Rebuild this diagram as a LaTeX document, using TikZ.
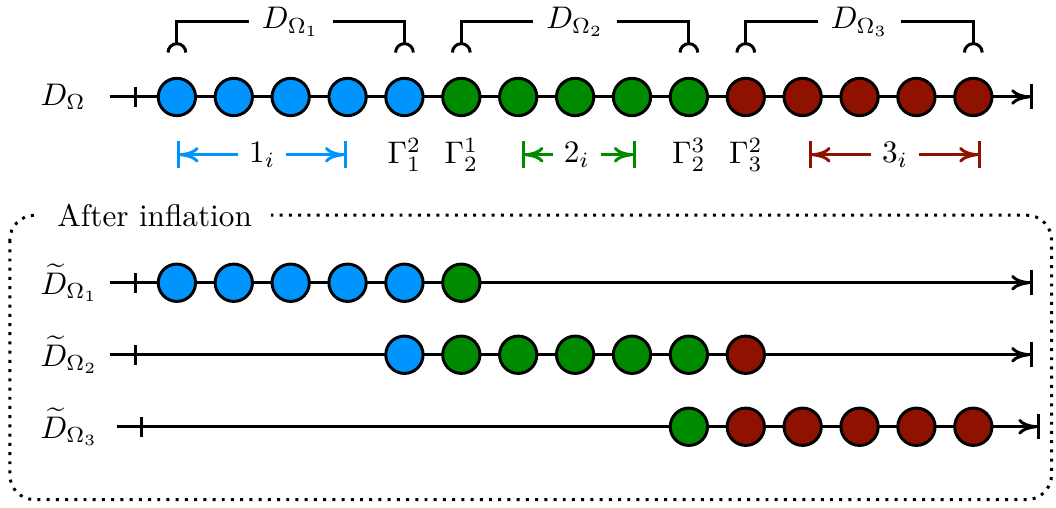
\documentclass[tikz,border=0pt]{standalone}
\usetikzlibrary{arrows.meta}
\usetikzlibrary{calc}
\definecolor{domA}{RGB}{0,148,255}
\definecolor{domB}{RGB}{0,138,0}
\definecolor{domC}{RGB}{143,18,0}
\tikzset{
    heavy/.style={line width=0.95pt},
    cell/.style={circle, draw, heavy, minimum size=0.42cm, inner sep=0pt},
    axis/.style={heavy, -{To[length=6pt,width=5pt]Bar[width=8pt]}},
    span/.style={heavy, -{To[length=6pt,width=5pt]Bar[width=8.5pt]}},
    hook/.style={heavy},
    rowlabel/.style={anchor=west, inner sep=0pt}
}

\begin{document}
\begin{tikzpicture}
    \useasboundingbox (-1.99,-4.624) rectangle (9.89,1.091);
    % full domain
    \coordinate (s0) at (-0.754,0);
    \coordinate (e0) at (9.63,0);
    \coordinate (k0) at (-0.461,0);
    \draw[axis] (s0) -- (e0);
    \draw[heavy] (k0) ++(0,-0.11) -- ++(0,0.22);
    \foreach \i in {0,...,4} {
        \node[cell, fill=domA] (t\i) at ({0.64*\i},0) {};
    }
    \foreach \i in {5,...,9} {
        \node[cell, fill=domB] (t\i) at ({0.64*\i},0) {};
    }
    \foreach \i in {10,...,14} {
        \node[cell, fill=domC] (t\i) at ({0.64*\i},0) {};
    }
    \node[rowlabel] (l0) at (-1.54,0) {$D_\Omega$};
    % subdomain brackets
    \foreach \a/\b/\n in {0/4/1, 5/9/2, 10/14/3} {
        \node[inner sep=4pt] (d\n) at ($(t\a)!0.5!(t\b)+(0,0.845)$) {$D_{\Omega_{\n}}$};
        \draw[hook] (d\n.west) -| ($(t\a)+(0,0.6)$);
        \draw[hook] (d\n.east) -| ($(t\b)+(0,0.6)$);
        \draw[hook] ($(t\a)+(-0.1,0.5)$) arc[start angle=180, end angle=0, radius=0.1];
        \draw[hook] ($(t\b)+(-0.1,0.5)$) arc[start angle=180, end angle=0, radius=0.1];
    }
    % interior spans and interfaces
    \node (n1) at (0.96,-0.65) {$1_i$};
    \node (n2) at (4.5,-0.65) {$2_i$};
    \node (n3) at (8.08,-0.65) {$3_i$};
    \coordinate (a1) at (0,-0.65);
    \coordinate (b1) at (1.91,-0.65);
    \coordinate (a2) at (3.88,-0.65);
    \coordinate (b2) at (5.16,-0.65);
    \coordinate (a3) at (7.11,-0.65);
    \coordinate (b3) at (9.045,-0.65);
    \foreach \n/\c in {1/domA, 2/domB, 3/domC} {
        \draw[span, \c] (n\n) -- (a\n);
        \draw[span, \c] (n\n) -- (b\n);
    }
    \node (g12) at (t4 |- n1) {$\Gamma_1^2$};
    \node (g21) at (t5 |- n1) {$\Gamma_2^1$};
    \node (g23) at (t9 |- n1) {$\Gamma_2^3$};
    \node (g32) at (t10 |- n1) {$\Gamma_3^2$};
    % inflated subdomains
    \draw[heavy, dotted, rounded corners=0.28cm] (-1.88,-1.33) rectangle (9.84,-4.53);
    \node[fill=white, inner xsep=6pt, inner ysep=1pt] (after) at (-0.25,-1.33) {After inflation};
    % first
    \coordinate (s1) at (-0.754,-2.09);
    \coordinate (e1) at (9.63,-2.09);
    \coordinate (k1) at (-0.461,-2.09);
    \draw[axis] (s1) -- (e1);
    \draw[heavy] (k1) ++(0,-0.11) -- ++(0,0.22);
    \foreach \i in {0,...,4} {
        \node[cell, fill=domA] (p\i) at ({0.64*\i},-2.09) {};
    }
    \node[cell, fill=domB] (p5) at (3.2,-2.09) {};
    \node[rowlabel] (l1) at (-1.54,-2.09) {$\widetilde{D}_{\Omega_1}$};
    % second
    \coordinate (s2) at (-0.754,-2.90);
    \coordinate (e2) at (9.63,-2.90);
    \coordinate (k2) at (-0.461,-2.90);
    \draw[axis] (s2) -- (e2);
    \draw[heavy] (k2) ++(0,-0.11) -- ++(0,0.22);
    \node[cell, fill=domA] (q4) at (2.56,-2.90) {};
    \foreach \i in {5,...,9} {
        \node[cell, fill=domB] (q\i) at ({0.64*\i},-2.90) {};
    }
    \node[cell, fill=domC] (q10) at (6.4,-2.90) {};
    \node[rowlabel] (l2) at (-1.54,-2.90) {$\widetilde{D}_{\Omega_2}$};
    % third
    \coordinate (s3) at (-0.675,-3.71);
    \coordinate (e3) at (9.71,-3.71);
    \coordinate (k3) at (-0.394,-3.71);
    \draw[axis] (s3) -- (e3);
    \draw[heavy] (k3) ++(0,-0.11) -- ++(0,0.22);
    \node[cell, fill=domB] (r9) at (5.76,-3.71) {};
    \foreach \i in {10,...,14} {
        \node[cell, fill=domC] (r\i) at ({0.64*\i},-3.71) {};
    }
    \node[rowlabel] (l3) at (-1.54,-3.71) {$\widetilde{D}_{\Omega_3}$};
\end{tikzpicture}
\end{document}
